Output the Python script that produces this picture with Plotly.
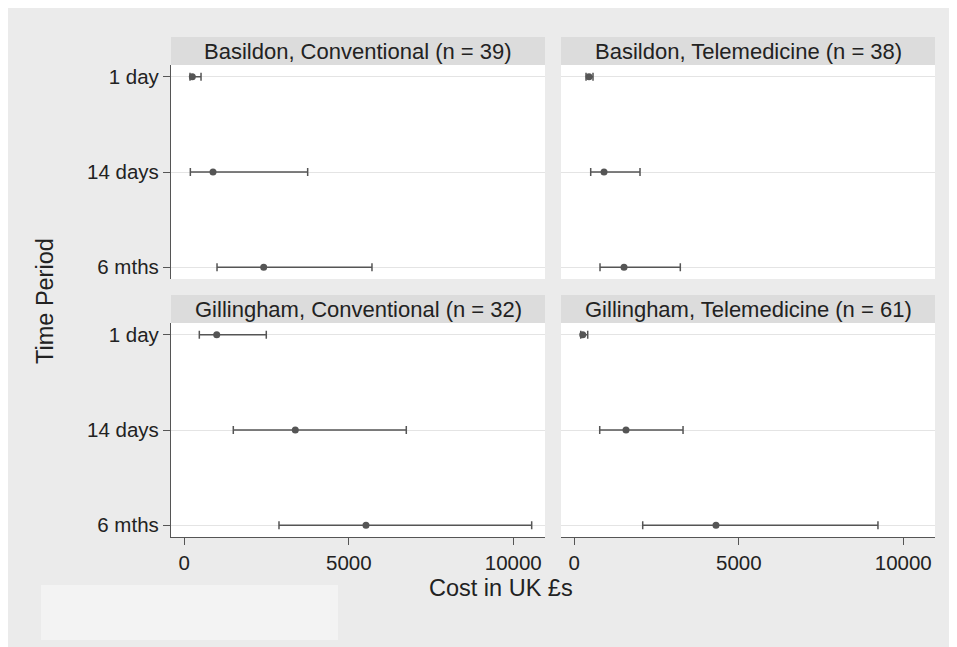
import plotly.graph_objects as go

# ---------------- data ----------------
periods = ["1 day", "14 days", "6 mths"]

panel_titles = [
    "Basildon, Conventional (n = 39)",
    "Basildon, Telemedicine (n = 38)",
    "Gillingham, Conventional (n = 32)",
    "Gillingham, Telemedicine (n = 61)",
]

basildon_conv_mean = [243, 872, 2413]
basildon_conv_low = [173, 183, 994]
basildon_conv_high = [508, 3750, 5705]

basildon_tele_mean = [447, 903, 1511]
basildon_tele_low = [356, 498, 781]
basildon_tele_high = [568, 1997, 3222]

gill_conv_mean = [985, 3374, 5523]
gill_conv_low = [456, 1489, 2878]
gill_conv_high = [2492, 6748, 10560]

gill_tele_mean = [255, 1571, 4307]
gill_tele_low = [195, 772, 2079]
gill_tele_high = [407, 3305, 9231]

x_ticks = [0, 5000, 10000]
x_tick_labels = ["0", "5000", "10000"]

# ---------------- styling ----------------
BG = "#ebebeb"
STRIP = "#dcdcdc"
INK = "#555555"
TXT = "#222222"
FONT = "Liberation Sans, Arial, sans-serif"
FS_TICK = 20.5
FS_STRIP = 22
FS_TITLE = 23.5

W, H = 957, 647
L, R, T, B = 163, 30, 29, 118
PW, PH = W - L - R, H - T - B


def px_x(p):
    return (p - L) / PW


def px_y(p):
    return (H - B - p) / PH


xdom_left = [0, px_x(537)]
xdom_right = [px_x(553), 1]
ydom_top = [px_y(271), px_y(57)]
ydom_bot = [0, px_y(315)]

panels = [
    (basildon_conv_mean, basildon_conv_low, basildon_conv_high),
    (basildon_tele_mean, basildon_tele_low, basildon_tele_high),
    (gill_conv_mean, gill_conv_low, gill_conv_high),
    (gill_tele_mean, gill_tele_low, gill_tele_high),
]

fig = go.Figure()
for i, (m, lo, hi) in enumerate(panels):
    sfx = "" if i == 0 else str(i + 1)
    fig.add_trace(go.Scatter(
        x=m, y=periods, mode="markers",
        marker=dict(color=INK, size=7),
        error_x=dict(type="data", symmetric=False,
                     array=[h - v for h, v in zip(hi, m)],
                     arrayminus=[v - l for v, l in zip(m, lo)],
                     color=INK, thickness=1.5, width=4),
        xaxis="x" + sfx, yaxis="y" + sfx, showlegend=False,
        hoverinfo="skip",
    ))

xr = [-405, 10965]
yr = [2.124, -0.124]

common_x = dict(range=xr, showgrid=False, zeroline=False,
                tickvals=x_ticks, ticktext=x_tick_labels,
                tickfont=dict(family=FONT, size=FS_TICK, color=TXT))
common_y = dict(type="category", categoryorder="array", categoryarray=periods,
                range=yr, showgrid=True, gridcolor="#e4e4e4", gridwidth=1,
                zeroline=False, tickfont=dict(family=FONT, size=FS_TICK, color=TXT))

layout = dict(
    width=W, height=H,
    margin=dict(l=L, r=R, t=T, b=B, pad=0),
    paper_bgcolor=BG, plot_bgcolor="white",
    font=dict(family=FONT, size=FS_TICK, color=TXT),
)

doms = [(xdom_left, ydom_top), (xdom_right, ydom_top),
        (xdom_left, ydom_bot), (xdom_right, ydom_bot)]
for i, (xd, yd) in enumerate(doms):
    sfx = "" if i == 0 else str(i + 1)
    bottom = i >= 2
    left = i % 2 == 0
    xa = dict(common_x, domain=xd, anchor="y" + sfx)
    if bottom:
        xa.update(showline=True, linecolor=INK, linewidth=1.2, ticks="outside",
                  ticklen=7, tickcolor=INK, tickwidth=1.2, showticklabels=True)
    else:
        xa.update(showline=False, ticks="", showticklabels=False)
    ya = dict(common_y, domain=yd, anchor="x" + sfx)
    if left:
        ya.update(showline=True, linecolor=INK, linewidth=1.2, ticks="outside",
                  ticklen=7, tickcolor=INK, tickwidth=1.2, showticklabels=True)
    else:
        ya.update(showline=False, ticks="", showticklabels=False)
    layout["xaxis" + sfx] = xa
    layout["yaxis" + sfx] = ya

shapes = []
annotations = []
strips = [(xdom_left, [ydom_top[1], 1.0]), (xdom_right, [ydom_top[1], 1.0]),
          (xdom_left, [ydom_bot[1], px_y(287)]), (xdom_right, [ydom_bot[1], px_y(287)])]
for (xd, yd), title in zip(strips, panel_titles):
    shapes.append(dict(type="rect", xref="paper", yref="paper",
                       x0=xd[0], x1=xd[1], y0=yd[0], y1=yd[1],
                       fillcolor=STRIP, line=dict(width=0), layer="below"))
    annotations.append(dict(text=title, xref="paper", yref="paper",
                            x=(xd[0] + xd[1]) / 2, y=(yd[0] + yd[1]) / 2,
                            xanchor="center", yanchor="middle", showarrow=False,
                            font=dict(family=FONT, size=FS_STRIP, color=TXT)))

# blank legend area
shapes.append(dict(type="rect", xref="paper", yref="paper",
                   x0=px_x(33), x1=px_x(330), y0=px_y(632), y1=px_y(577),
                   fillcolor="#f3f3f3", line=dict(width=0), layer="below"))

annotations.append(dict(text="Time Period", xref="paper", yref="paper",
                        x=px_x(37), y=px_y(293), textangle=-90,
                        xanchor="center", yanchor="middle", showarrow=False,
                        font=dict(family=FONT, size=FS_TITLE, color=TXT)))
annotations.append(dict(text="Cost in UK £s", xref="paper", yref="paper",
                        x=px_x(493), y=px_y(580),
                        xanchor="center", yanchor="middle", showarrow=False,
                        font=dict(family=FONT, size=FS_TITLE, color=TXT)))

layout["shapes"] = shapes
layout["annotations"] = annotations
fig.update_layout(**layout)
fig.write_html("out.html")
